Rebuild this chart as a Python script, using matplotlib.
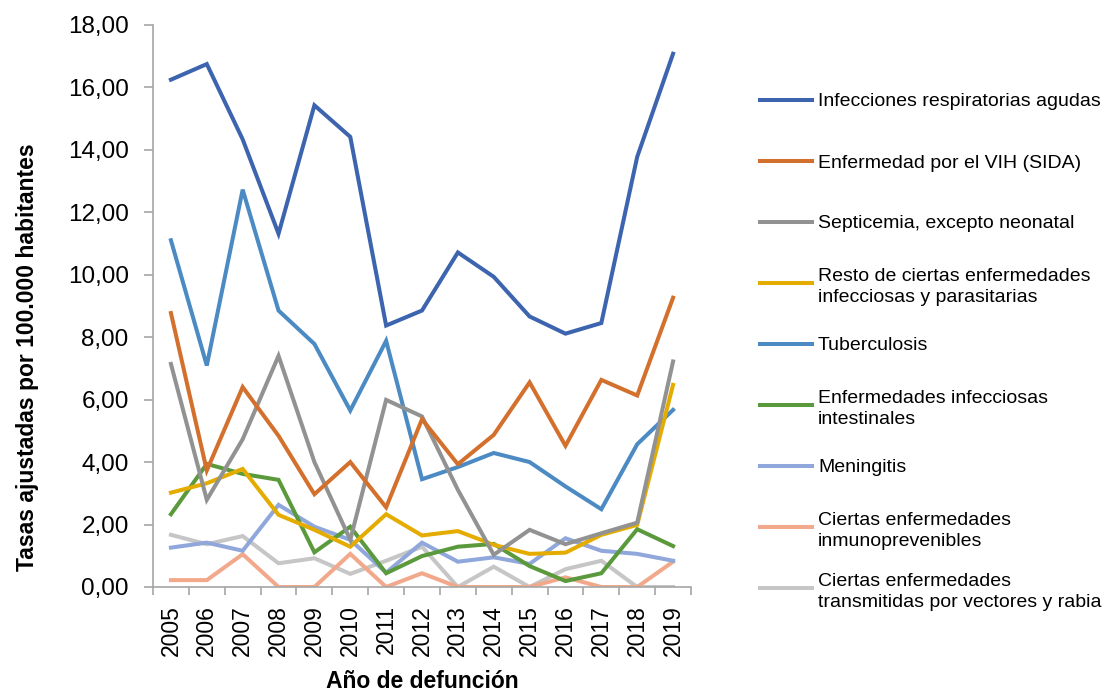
import matplotlib
matplotlib.use("Agg")
import matplotlib.pyplot as plt
from matplotlib.lines import Line2D

plt.rcParams['font.family'] = ['Liberation Sans', 'DejaVu Sans']

years = [str(y) for y in range(2005, 2020)]

respiratorias = [16.24, 16.74, 14.33, 11.31, 15.42, 14.41, 8.37, 8.85, 10.71, 9.93, 8.66, 8.11, 8.45, 13.77, 17.07]
vih = [8.77, 3.73, 6.40, 4.84, 2.97, 4.00, 2.55, 5.37, 3.93, 4.87, 6.55, 4.52, 6.63, 6.13, 9.26]
septicemia = [7.14, 2.79, 4.73, 7.40, 4.00, 1.51, 5.99, 5.46, 3.11, 1.03, 1.83, 1.37, 1.72, 2.06, 7.22]
resto = [3.02, 3.32, 3.78, 2.31, 1.83, 1.29, 2.33, 1.65, 1.79, 1.35, 1.06, 1.10, 1.67, 1.99, 6.47]
tuberculosis = [11.10, 7.09, 12.72, 8.85, 7.78, 5.65, 7.88, 3.45, 3.84, 4.29, 4.00, 3.22, 2.49, 4.57, 5.67]
intestinales = [2.33, 3.94, 3.62, 3.43, 1.11, 1.93, 0.44, 0.99, 1.29, 1.38, 0.67, 0.19, 0.44, 1.85, 1.31]
meningitis = [1.26, 1.42, 1.16, 2.63, 1.93, 1.51, 0.46, 1.42, 0.81, 0.95, 0.74, 1.56, 1.16, 1.06, 0.84]
inmunoprevenibles = [0.22, 0.22, 1.05, 0.0, 0.0, 1.06, 0.0, 0.44, 0.0, 0.0, 0.0, 0.31, 0.0, 0.0, 0.81]
vectores = [1.67, 1.37, 1.63, 0.76, 0.92, 0.42, 0.84, 1.29, 0.0, 0.65, 0.0, 0.57, 0.84, 0.0, 0.0]

nombres = [
    'Infecciones respiratorias agudas',
    'Enfermedad por el VIH (SIDA)',
    'Septicemia, excepto neonatal',
    'Resto de ciertas enfermedades\ninfecciosas y parasitarias',
    'Tuberculosis',
    'Enfermedades infecciosas\nintestinales',
    'Meningitis',
    'Ciertas enfermedades\ninmunoprevenibles',
    'Ciertas enfermedades\ntransmitidas por vectores y rabia',
]
series = [respiratorias, vih, septicemia, resto, tuberculosis,
          intestinales, meningitis, inmunoprevenibles, vectores]
colores = ['#3D64AE', '#D4702D', '#929292', '#E5AC00', '#4B8AC3',
           '#5B9A3C', '#8FA7DA', '#F2A88B', '#C6C6C6']

W, H = 1104, 693
fig = plt.figure(figsize=(W / 100, H / 100), dpi=100)
ax = fig.add_axes([153 / W, 1 - 587 / H, (691 - 153) / W, (587 - 24.7) / H])

x = list(range(len(years)))
# se dibuja de la última a la primera para que la primera quede encima
for vals, col in reversed(list(zip(series, colores))):
    ax.plot(x, vals, color=col, linewidth=2.9, solid_joinstyle='miter')

ax.set_xlim(-0.5, len(years) - 0.5)
ax.set_ylim(0, 18)
ax.set_yticks(range(0, 19, 2))
ax.set_yticklabels([f'{v:.2f}'.replace('.', ',') for v in range(0, 19, 2)], fontsize=17.5)
ax.set_xticks(x)
ax.set_xticklabels(years, rotation=90, fontsize=16.5)
ax.set_xticks([i - 0.5 for i in range(len(years) + 1)], minor=True)

gris = '#A6A6A6'
for s in ['top', 'right']:
    ax.spines[s].set_visible(False)
for s in ['left', 'bottom']:
    ax.spines[s].set_color(gris)
    ax.spines[s].set_linewidth(1.2)
ax.tick_params(axis='y', length=6.5, width=1.2, color=gris, pad=11)
ax.tick_params(axis='x', which='major', length=0, pad=13)
ax.tick_params(axis='x', which='minor', length=6, width=1.2, color=gris)

fig.text(28 / W, 1 - 357 / H, 'Tasas ajustadas por 100.000 habitantes', rotation=90,
         fontsize=16.5, fontweight='bold', ha='center', va='center')
fig.text(422 / W, 1 - 681 / H, 'Año de defunción', fontsize=16.5,
         fontweight='bold', ha='center', va='center')

# leyenda manual (línea alineada con la primera línea del texto)
for i, (nombre, col) in enumerate(zip(nombres, colores)):
    yp = 1 - (100 + i * 61.0) / H
    fig.add_artist(Line2D([760 / W, 812 / W], [yp, yp], color=col, linewidth=2.9,
                          transform=fig.transFigure))
    fig.text(818 / W, yp, nombre, fontsize=14, ha='left', va='center_baseline',
             linespacing=1.3)

fig.savefig('out.png', dpi=100)
